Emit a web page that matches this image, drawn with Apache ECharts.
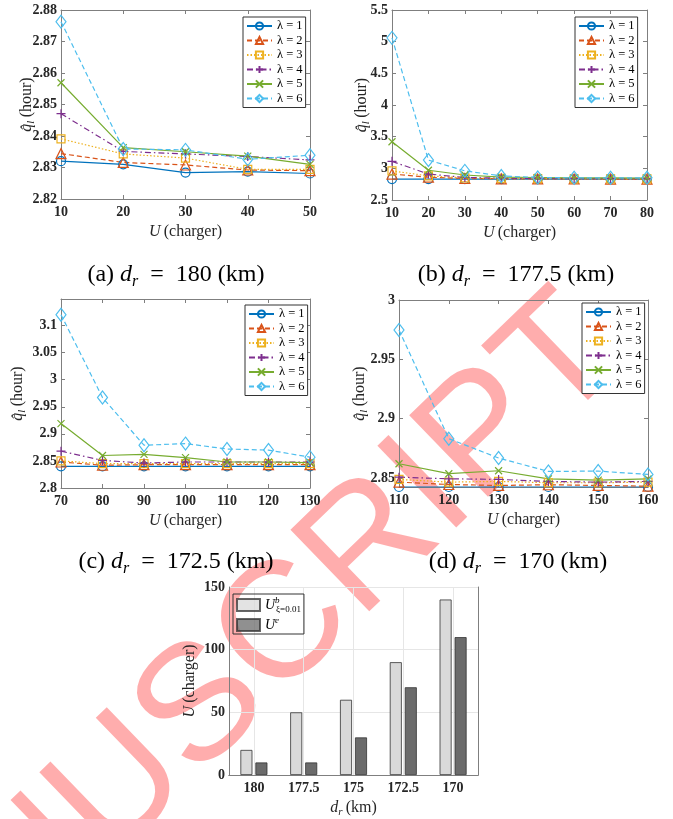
<!DOCTYPE html>
<html>
<head>
<meta charset="utf-8">
<script src="https://cdn.jsdelivr.net/npm/echarts@6/dist/echarts.min.js"></script>
<style>
html, body { margin: 0; padding: 0; background: #fff; }
#chart { width: 673px; height: 819px; }
</style>
</head>
<body>
<div id="chart"></div>
<script>
// values
const lambdaNames = ['λ = 1', 'λ = 2', 'λ = 3', 'λ = 4', 'λ = 5', 'λ = 6'];

const uA = [10, 20, 30, 40, 50];
const qA = [
  [2.8320, 2.8310, 2.8284, 2.8287, 2.8281],
  [2.8344, 2.8316, 2.8308, 2.8292, 2.8290],
  [2.8391, 2.8343, 2.8330, 2.8294, 2.8294],
  [2.8471, 2.8351, 2.8343, 2.8335, 2.8324],
  [2.8569, 2.8363, 2.8350, 2.8336, 2.8310],
  [2.8763, 2.8359, 2.8356, 2.8326, 2.8339]
];

const uB = [10, 20, 30, 40, 50, 60, 70, 80];
const qB = [
  [2.830, 2.830, 2.830, 2.830, 2.830, 2.830, 2.830, 2.830],
  [2.910, 2.860, 2.840, 2.835, 2.833, 2.832, 2.831, 2.831],
  [2.960, 2.880, 2.850, 2.840, 2.837, 2.835, 2.834, 2.833],
  [3.110, 2.910, 2.856, 2.845, 2.840, 2.838, 2.836, 2.835],
  [3.420, 2.970, 2.895, 2.860, 2.855, 2.850, 2.848, 2.846],
  [5.060, 3.130, 2.960, 2.880, 2.855, 2.850, 2.850, 2.850]
];

const uC = [70, 80, 90, 100, 110, 120, 130];
const qC = [
  [2.840, 2.840, 2.840, 2.840, 2.840, 2.840, 2.840],
  [2.848, 2.842, 2.843, 2.843, 2.843, 2.843, 2.843],
  [2.850, 2.845, 2.845, 2.845, 2.845, 2.845, 2.845],
  [2.868, 2.851, 2.846, 2.848, 2.848, 2.848, 2.848],
  [2.919, 2.860, 2.862, 2.856, 2.848, 2.848, 2.847],
  [3.120, 2.967, 2.879, 2.882, 2.872, 2.870, 2.857]
];

const uD = [110, 120, 130, 140, 150, 160];
const qD = [
  [2.8425, 2.8425, 2.8425, 2.8425, 2.8425, 2.8425],
  [2.8466, 2.8446, 2.8438, 2.8444, 2.8438, 2.8432],
  [2.8489, 2.8466, 2.8472, 2.8461, 2.8461, 2.8466],
  [2.8508, 2.8494, 2.8489, 2.8472, 2.8466, 2.8472],
  [2.8621, 2.8537, 2.8562, 2.8494, 2.8483, 2.8494],
  [2.9748, 2.8832, 2.8669, 2.8556, 2.8559, 2.8531]
];

const yTicksA = [2.82, 2.83, 2.84, 2.85, 2.86, 2.87, 2.88];
const yTicksB = [2.5, 3, 3.5, 4, 4.5, 5, 5.5];
const yTicksC = [2.8, 2.85, 2.9, 2.95, 3, 3.05, 3.1];
const yTicksD = [2.85, 2.9, 2.95, 3];

const drLabels = ['180', '177.5', '175', '172.5', '170'];
const uBase = [20, 50, 60, 90, 140];
const uEst = [10, 10, 30, 70, 110];
const barNames = ['U^b_{ξ=0.01}', 'U^e'];

// styling
const SERIF = 'Liberation Serif';
const BOX = '#7f7f7f';
const TXT = '#262626';
const colors = ['#0072BD', '#D95319', '#EDB120', '#7E2F8E', '#77AC30', '#4DBEEE'];
const dashes = ['solid', [5, 3], [1.5, 2], [6, 3, 1.5, 3], 'solid', [5, 3]];
const symbols = ['circle', 'triangle', 'rect',
  'path://M5,0L5,10M0,5L10,5', 'path://M0,0L10,10M10,0L0,10', 'diamond'];
const symbolSizes = [9, 10, 8, 9, 7, [10, 13]];

const panels = [
  { u: uA, q: qA, yTicks: yTicksA, yMin: 2.82, yMax: 2.88, yGap: 24, legend: { left: 243, top: 17 } },
  { u: uB, q: qB, yTicks: yTicksB, yMin: 2.5, yMax: 5.5, yGap: 20, legend: { left: 575, top: 17 } },
  { u: uC, q: qC, yTicks: yTicksC, yMin: 2.8, yMax: 3.149, yGap: 33, legend: { left: 245, top: 305 } },
  { u: uD, q: qD, yTicks: yTicksD, yMin: 2.8425, yMax: 3, yGap: 29, legend: { left: 582, top: 303 } }
];

const grids = [
  { left: 61, top: 10, width: 249, height: 189 },
  { left: 392, top: 10, width: 255, height: 190 },
  { left: 61, top: 299, width: 249, height: 189 },
  { left: 399, top: 300, width: 249, height: 187 },
  { left: 229, top: 587, width: 249, height: 189 }
];

const nameRich = {
  i: { fontFamily: SERIF, fontStyle: 'italic', fontSize: 16, lineHeight: 20, color: TXT },
  n: { fontFamily: SERIF, fontSize: 16, lineHeight: 20, color: TXT },
  sub: { fontFamily: SERIF, fontStyle: 'italic', fontSize: 11, lineHeight: 11, verticalAlign: 'bottom', color: TXT }
};

const tickLabel = { fontFamily: SERIF, fontWeight: 'bold', fontSize: 14, color: TXT };
const boxLine = { show: true, lineStyle: { color: BOX, width: 1 } };

const xAxes = [];
const yAxes = [];
const series = [];
const legends = [];

panels.forEach(function (p, i) {
  const xMin = p.u[0], xMax = p.u[p.u.length - 1];
  xAxes.push({
    type: 'value', gridIndex: i, position: 'bottom', min: xMin, max: xMax, interval: 10,
    axisLine: boxLine, axisTick: { inside: true, length: 4, lineStyle: { color: BOX } },
    axisLabel: Object.assign({ margin: 6 }, tickLabel), splitLine: { show: false },
    name: '{i|U} {n|(charger)}', nameLocation: 'middle', nameGap: 23,
    nameTextStyle: { rich: nameRich }
  });
  xAxes.push({
    type: 'value', gridIndex: i, position: 'top', min: xMin, max: xMax, interval: 10,
    axisLine: boxLine, axisTick: { inside: true, length: 4, lineStyle: { color: BOX } },
    axisLabel: { show: false }, splitLine: { show: false }
  });
  yAxes.push({
    type: 'value', gridIndex: i, position: 'left', min: p.yMin, max: p.yMax,
    axisLine: boxLine,
    axisTick: { inside: true, length: 4, customValues: p.yTicks, lineStyle: { color: BOX } },
    axisLabel: Object.assign({ margin: 4, customValues: p.yTicks }, tickLabel),
    splitLine: { show: false },
    name: '{i|q\u0302}{sub|l} {n|(hour)}', nameLocation: 'middle', nameGap: p.yGap,
    nameMoveOverlap: false,
    nameTextStyle: { rich: nameRich }
  });
  yAxes.push({
    type: 'value', gridIndex: i, position: 'right', min: p.yMin, max: p.yMax,
    axisLine: boxLine,
    axisTick: { inside: true, length: 4, customValues: p.yTicks, lineStyle: { color: BOX } },
    axisLabel: { show: false }, splitLine: { show: false }
  });
  p.q.forEach(function (row, k) {
    series.push({
      type: 'line', name: lambdaNames[k], xAxisIndex: 2 * i, yAxisIndex: 2 * i,
      data: p.u.map(function (u, j) { return [u, row[j]]; }),
      symbol: symbols[k], symbolSize: symbolSizes[k], showSymbol: true,
      lineStyle: { color: colors[k], width: 1.2, type: dashes[k] },
      itemStyle: { color: 'rgba(0,0,0,0)', borderColor: colors[k], borderWidth: 1.2 },
      z: 3
    });
  });
  legends.push({
    orient: 'vertical', left: p.legend.left, top: p.legend.top,
    data: lambdaNames, selectedMode: false,
    itemWidth: 25, itemHeight: 9, itemGap: 0.5,
    padding: [2, 3, 2, 3],
    backgroundColor: '#fff', borderColor: '#333', borderWidth: 1,
    textStyle: { fontFamily: SERIF, fontSize: 12.5, lineHeight: 14, color: '#000' }
  });
});

// bar panel
xAxes.push({
  type: 'category', gridIndex: 4, position: 'bottom', data: drLabels,
  axisLine: boxLine,
  axisTick: { inside: true, length: 4, alignWithLabel: true, lineStyle: { color: BOX } },
  axisLabel: Object.assign({ margin: 6 }, tickLabel),
  splitLine: { show: true, alignWithLabel: true, lineStyle: { color: '#e6e6e6', width: 1 } },
  name: '{i|d}{sub|r} {n|(km)}', nameLocation: 'middle', nameGap: 23,
  nameTextStyle: { rich: nameRich }
});
xAxes.push({
  type: 'category', gridIndex: 4, position: 'top', data: drLabels,
  axisLine: boxLine,
  axisTick: { inside: true, length: 4, alignWithLabel: true, lineStyle: { color: BOX } },
  axisLabel: { show: false }, splitLine: { show: false }
});
yAxes.push({
  type: 'value', gridIndex: 4, position: 'left', min: 0, max: 150, interval: 50,
  axisLine: boxLine, axisTick: { inside: true, length: 4, lineStyle: { color: BOX } },
  axisLabel: Object.assign({ margin: 4 }, tickLabel),
  splitLine: { show: true, lineStyle: { color: '#e6e6e6', width: 1 } },
  name: '{i|U} {n|(charger)}', nameLocation: 'middle', nameGap: 29,
  nameMoveOverlap: false,
  nameTextStyle: { rich: nameRich }
});
yAxes.push({
  type: 'value', gridIndex: 4, position: 'right', min: 0, max: 150, interval: 50,
  axisLine: boxLine, axisTick: { inside: true, length: 4, lineStyle: { color: BOX } },
  axisLabel: { show: false }, splitLine: { show: false }
});
series.push({
  type: 'bar', name: barNames[0], xAxisIndex: 8, yAxisIndex: 8, data: uBase,
  barWidth: 12, barGap: '25%',
  itemStyle: { color: '#d9d9d9', borderColor: '#333', borderWidth: 0.8 }, z: 3
});
series.push({
  type: 'bar', name: barNames[1], xAxisIndex: 8, yAxisIndex: 8, data: uEst,
  barWidth: 12, barGap: '25%',
  itemStyle: { color: '#6b6b6b', borderColor: '#333', borderWidth: 0.8 }, z: 3
});
legends.push({
  orient: 'vertical', left: 233, top: 594, data: barNames, selectedMode: false,
  icon: 'rect', itemWidth: 23, itemHeight: 12, itemGap: 2,
  padding: [2, 3, 2, 3],
  backgroundColor: 'rgba(0,0,0,0)', borderColor: '#333', borderWidth: 1,
  itemStyle: { opacity: 0.75 },
  formatter: function (name) {
    return name === barNames[0] ? '{i|U}{sups|b}{sub|ξ=0.01}' : '{i|U}{sup|e}';
  },
  textStyle: {
    fontFamily: SERIF, color: '#000',
    rich: {
      i: { fontFamily: SERIF, fontStyle: 'italic', fontSize: 14, lineHeight: 18 },
      sup: { fontFamily: SERIF, fontStyle: 'italic', fontSize: 9, lineHeight: 10, verticalAlign: 'top' },
      sups: { fontFamily: SERIF, fontStyle: 'italic', fontSize: 9, lineHeight: 10, verticalAlign: 'top', width: 1 },
      sub: { fontFamily: SERIF, fontSize: 9, lineHeight: 10, verticalAlign: 'bottom' }
    }
  }
});

const capRich = {
  n: { fontFamily: SERIF, fontSize: 24, lineHeight: 30, fill: '#000' },
  i: { fontFamily: SERIF, fontStyle: 'italic', fontSize: 24, lineHeight: 30, fill: '#000' },
  sub: { fontFamily: SERIF, fontStyle: 'italic', fontSize: 16, lineHeight: 16, verticalAlign: 'bottom', fill: '#000' }
};
function caption(x, y, tag, dr) {
  return {
    type: 'text', x: x, y: y, silent: true,
    style: {
      text: '{n|(' + tag + ') }{i|d}{sub|r}{n|\u2002=\u2002' + dr + ' (km)}',
      rich: capRich, align: 'center', verticalAlign: 'middle'
    }
  };
}

// watermark, one letter at a time along a 44 degree line
const markText = 'MANUSCRIPT';
const markWidths = [0.833, 0.667, 0.722, 0.722, 0.667, 0.722, 0.722, 0.278, 0.667, 0.611];
const markSize = 165;
const markAngle = 44 * Math.PI / 180;
const markEnd = [562, 362];
const watermark = [];
(function () {
  let cx = markEnd[0], cy = markEnd[1];
  for (let k = markText.length - 1; k >= 0; k--) {
    watermark.push({
      type: 'text', x: cx, y: cy, rotation: markAngle, z: -10, silent: true,
      style: {
        text: markText[k], fontFamily: 'Liberation Sans', fontSize: markSize,
        fill: 'rgba(255,0,0,0.32)', align: 'center', verticalAlign: 'middle'
      }
    });
    if (k > 0) {
      const step = (markWidths[k] + markWidths[k - 1]) / 2 * markSize;
      cx -= step * Math.cos(markAngle);
      cy += step * Math.sin(markAngle);
    }
  }
})();

const option = {
  animation: false,
  backgroundColor: '#fff',
  grid: grids,
  xAxis: xAxes,
  yAxis: yAxes,
  legend: legends,
  series: series,
  graphic: watermark.concat([
    caption(176, 275, 'a', '180'),
    caption(516, 275, 'b', '177.5'),
    caption(176, 562, 'c', '172.5'),
    caption(518, 562, 'd', '170')
  ])
};

const chart = echarts.init(document.getElementById('chart'));
chart.setOption(option);
</script>
</body>
</html>
